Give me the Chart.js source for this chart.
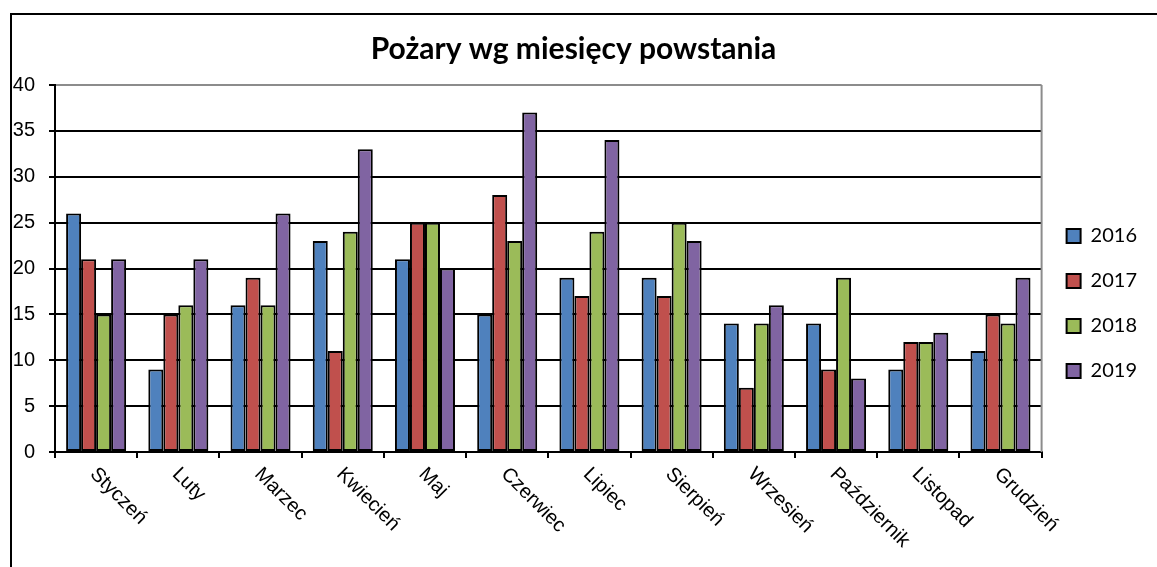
<!DOCTYPE html>
<html>
<head>
<meta charset="utf-8">
<script src="https://cdn.jsdelivr.net/npm/chart.js@4"></script>
<style>
  html, body { margin: 0; padding: 0; background: #fff; }
</style>
</head>
<body>
<canvas id="fireChart" width="1157" height="567"></canvas>
<script>
// Dane: liczba pożarów wg miesiąca powstania
const months = ['Styczeń', 'Luty', 'Marzec', 'Kwiecień', 'Maj', 'Czerwiec', 'Lipiec', 'Sierpień', 'Wrzesień', 'Październik', 'Listopad', 'Grudzień'];
const years = ['2016', '2017', '2018', '2019'];
const fires2016 = [26, 9, 16, 23, 21, 15, 19, 19, 14, 14, 9, 11];
const fires2017 = [21, 15, 19, 11, 25, 28, 17, 17, 7, 9, 12, 15];
const fires2018 = [15, 16, 16, 24, 25, 23, 24, 25, 14, 19, 12, 14];
const fires2019 = [21, 21, 26, 33, 20, 37, 34, 23, 16, 8, 13, 19];
const yTicks = [0, 5, 10, 15, 20, 25, 30, 35, 40];
const colors = ['#4f81bd', '#c0504d', '#9bbb59', '#8064a2'];

const series = [fires2016, fires2017, fires2018, fires2019];

// Outer frame + right border of plot area
const framePlugin = {
    id: 'framePlugin',
    afterDraw(chart) {
        const ctx = chart.ctx;
        const area = chart.chartArea;
        ctx.save();
        ctx.strokeStyle = '#000';
        ctx.lineWidth = 2;
        ctx.beginPath();
        ctx.moveTo(11, chart.height);
        ctx.lineTo(11, 14);
        ctx.lineTo(chart.width, 14);
        ctx.stroke();
        ctx.strokeStyle = '#8c8c8c';
        ctx.beginPath();
        ctx.moveTo(area.right, area.top);
        ctx.lineTo(area.right, area.bottom);
        ctx.stroke();
        ctx.restore();
    }
};

// Month labels slanted downwards (Excel style)
const slantedLabels = {
    id: 'slantedLabels',
    afterDraw(chart) {
        const xScale = chart.scales.x;
        const ctx = chart.ctx;
        ctx.save();
        ctx.font = '20px "Liberation Sans", Arial, sans-serif';
        ctx.fillStyle = '#000';
        ctx.textAlign = 'left';
        ctx.textBaseline = 'middle';
        months.forEach((m, i) => {
            const px = xScale.getPixelForTick(i);
            ctx.save();
            ctx.translate(px - 3, xScale.top + 19);
            ctx.rotate(Math.PI / 4);
            ctx.fillText(m, 0, 0);
            ctx.restore();
        });
        ctx.restore();
    }
};

new Chart(document.getElementById('fireChart'), {
    type: 'bar',
    data: {
        labels: months,
        datasets: years.map((y, i) => ({
            label: y,
            data: series[i],
            backgroundColor: colors[i],
            borderColor: '#000',
            borderWidth: 2,
            borderSkipped: false,
            barPercentage: 1.0,
            categoryPercentage: 0.73
        }))
    },
    options: {
        responsive: false,
        animation: false,
        layout: { padding: { left: 0, right: 10, top: 0, bottom: 0 } },
        plugins: {
            title: {
                display: true,
                text: 'Pożary wg miesięcy powstania',
                color: '#000',
                font: { family: 'Lato', size: 30, weight: 'bold' },
                padding: { top: 31, bottom: 18 }
            },
            legend: {
                position: 'right',
                title: { display: true, text: ' ', font: { size: 10 }, padding: { top: 14, bottom: 14 } },
                labels: {
                    color: '#000',
                    font: { family: 'Lato', size: 20 },
                    boxWidth: 14,
                    boxHeight: 14,
                    padding: 25
                }
            },
            tooltip: { enabled: false }
        },
        scales: {
            x: {
                afterFit: s => { s.height = 115; },
                ticks: { display: false },
                grid: {
                    display: true,
                    drawOnChartArea: false,
                    drawTicks: true,
                    tickLength: 6,
                    offset: true,
                    color: '#000',
                    lineWidth: 2
                },
                border: { color: '#000', width: 2 }
            },
            y: {
                min: 0,
                max: 40,
                afterFit: s => { s.width = 55; },
                afterBuildTicks: s => { s.ticks = yTicks.map(v => ({ value: v })); },
                ticks: {
                    color: '#000',
                    padding: 14,
                    font: { family: '"Liberation Sans", Arial, sans-serif', size: 20 }
                },
                grid: {
                    color: ctx => ctx.tick && ctx.tick.value === 40 ? '#8c8c8c' : '#000',
                    tickColor: '#000',
                    lineWidth: 2,
                    tickLength: 6
                },
                border: { color: '#000', width: 2 }
            }
        }
    },
    plugins: [framePlugin, slantedLabels]
});
</script>
</body>
</html>
